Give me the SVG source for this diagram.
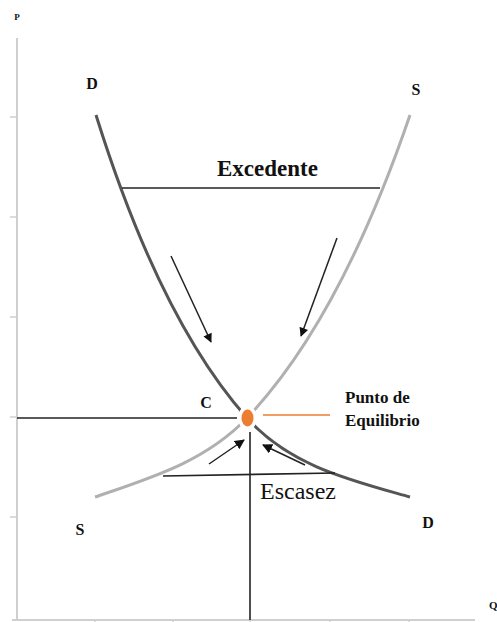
<svg xmlns="http://www.w3.org/2000/svg" width="497" height="622" viewBox="0 0 497 622">
<defs>
<marker id="ah" viewBox="0 0 10 10" refX="9" refY="5" markerWidth="10" markerHeight="9" orient="auto" markerUnits="userSpaceOnUse">
<path d="M0,0 L10,5 L0,10 z" fill="#111"/>
</marker>
<marker id="ahs" viewBox="0 0 10 10" refX="9" refY="5" markerWidth="10" markerHeight="10" orient="auto" markerUnits="userSpaceOnUse">
<path d="M0,0 L10,5 L0,10 z" fill="#111"/>
</marker>
</defs>
<style>
.ax{stroke:#cfcfcf;stroke-width:2;fill:none}
.tk{stroke:#cfcfcf;stroke-width:1.5}
.dem{stroke:#555;stroke-width:3;fill:none}
.sup{stroke:#b0b0b0;stroke-width:3;fill:none}
.ln{stroke:#222;stroke-width:1.6;fill:none}
.arr{stroke:#222;stroke-width:1.5;fill:none;marker-end:url(#ah)}
.t{font-family:"Liberation Serif","Times New Roman",serif;fill:#111}
</style>
<rect width="497" height="622" fill="#fff"/>
<g id="axes">
<line class="ax" x1="17" y1="38" x2="17" y2="621"/>
<line class="ax" x1="12" y1="620" x2="475" y2="620"/>
<line class="tk" x1="10" y1="117" x2="17" y2="117"/>
<line class="tk" x1="10" y1="217" x2="17" y2="217"/>
<line class="tk" x1="10" y1="317" x2="17" y2="317"/>
<line class="tk" x1="10" y1="417" x2="17" y2="417"/>
<line class="tk" x1="10" y1="517" x2="17" y2="517"/>
<line class="tk" x1="95" y1="620" x2="95" y2="622"/>
<line class="tk" x1="173" y1="620" x2="173" y2="622"/>
<line class="tk" x1="250" y1="620" x2="250" y2="622"/>
<line class="tk" x1="330" y1="620" x2="330" y2="622"/>
<line class="tk" x1="409" y1="620" x2="409" y2="622"/>
<text class="t" x="17" y="20" font-size="9" font-weight="bold" text-anchor="middle">P</text>
<text class="t" x="489" y="609" font-size="11" font-weight="bold">Q</text>
</g>
<g id="demand">
<path class="dem" d="M96,115 Q160,320 247,418 C290,466 350,480 410,497"/>
<text class="t" x="92" y="89" font-size="16" font-weight="bold" text-anchor="middle">D</text>
<text class="t" x="428" y="528" font-size="16" font-weight="bold" text-anchor="middle">D</text>
</g>
<g id="supply">
<path class="sup" d="M410,115 Q340,320 247,418 C205,462 150,478 95,497"/>
<text class="t" x="416" y="95" font-size="16" font-weight="bold" text-anchor="middle">S</text>
<text class="t" x="80" y="535" font-size="16" font-weight="bold" text-anchor="middle">S</text>
</g>
<g id="connectors">
<line class="ln" x1="122" y1="188" x2="380" y2="188"/>
<line class="ln" x1="17" y1="418" x2="237" y2="418"/>
<line class="ln" x1="250" y1="432" x2="250" y2="620"/>
<line class="ln" x1="163" y1="476" x2="335" y2="473"/>
<line x1="263" y1="415" x2="330" y2="415" stroke="#ed7d31" stroke-width="1.5"/>
<line class="arr" x1="171" y1="256" x2="211" y2="342"/>
<line class="arr" x1="337" y1="238" x2="301" y2="336"/>
<line class="arr" x1="209" y1="464" x2="244" y2="440" style="marker-end:url(#ahs)"/>
<line class="arr" x1="305" y1="465" x2="263" y2="445" style="marker-end:url(#ahs)"/>
</g>
<g id="equilibrium">
<ellipse cx="247.5" cy="418" rx="6" ry="8.5" fill="#ed7d31" stroke="#fff" stroke-width="7" paint-order="stroke"/>
<text class="t" x="206" y="408" font-size="16" font-weight="bold" text-anchor="middle">C</text>
<text class="t" x="345" y="403" font-size="17" font-weight="bold">Punto de</text>
<text class="t" x="345" y="426" font-size="17" font-weight="bold">Equilibrio</text>
</g>
<g id="labels">
<text class="t" x="217" y="176" font-size="23" font-weight="bold">Excedente</text>
<text class="t" x="260" y="499" font-size="24">Escasez</text>
</g>
</svg>
